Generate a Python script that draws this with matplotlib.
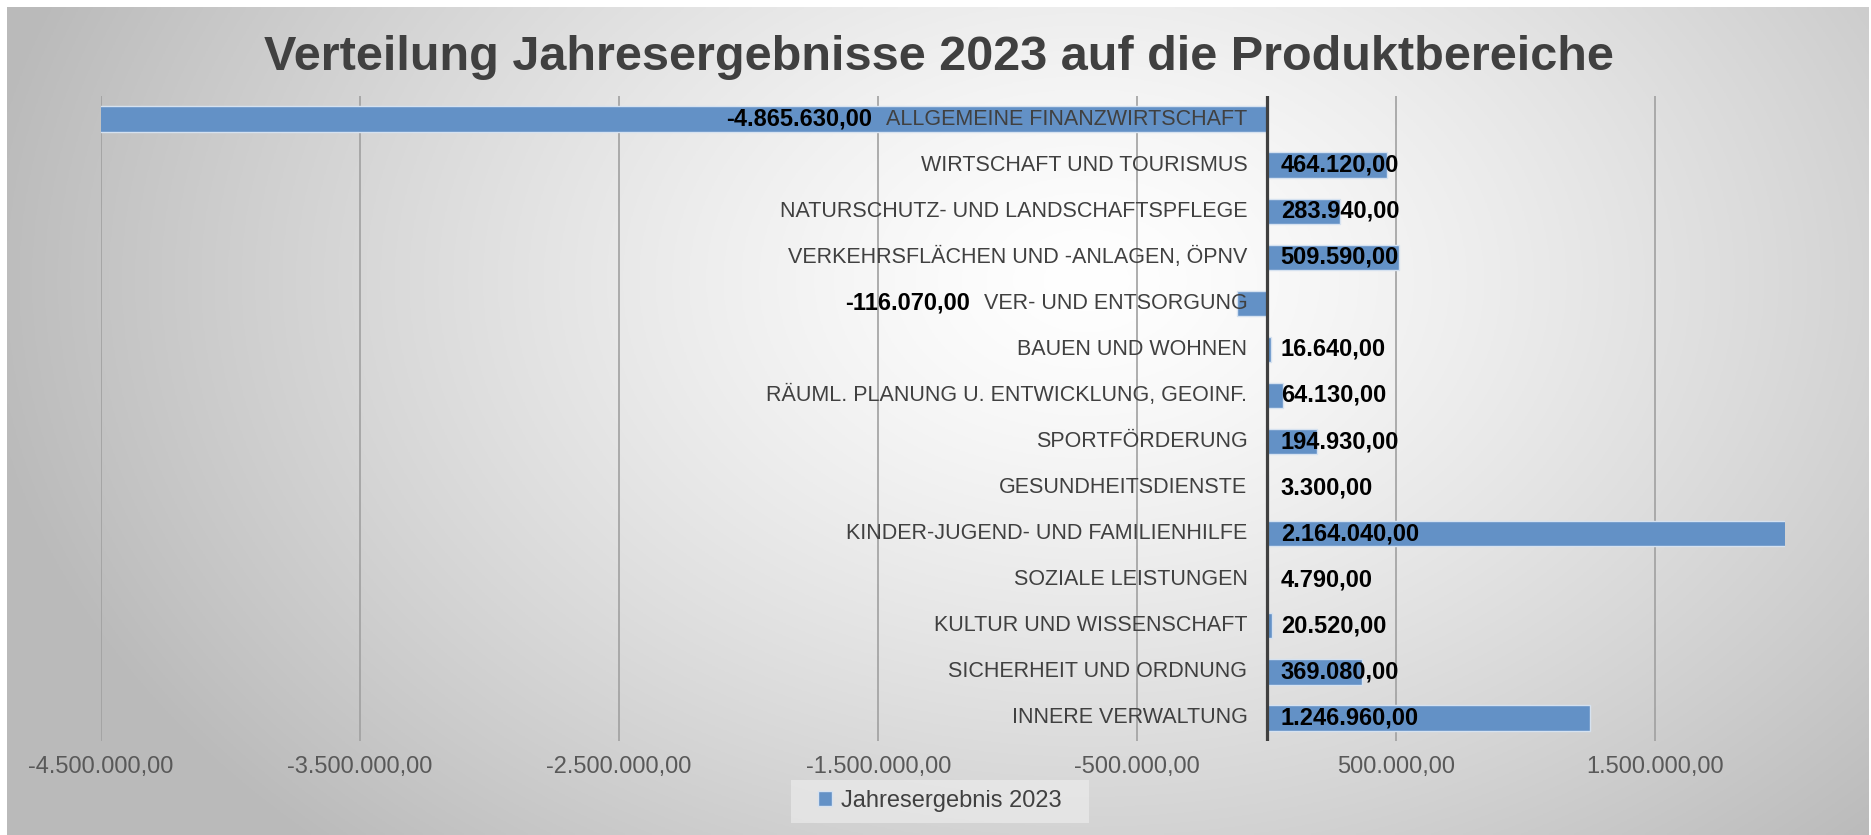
import matplotlib
matplotlib.use('Agg')
import matplotlib.pyplot as plt
from matplotlib.patches import Patch, Rectangle
import numpy as np

plt.rcParams['font.family'] = ['Liberation Sans', 'DejaVu Sans']

categories = [
    'ALLGEMEINE FINANZWIRTSCHAFT',
    'WIRTSCHAFT UND TOURISMUS',
    'NATURSCHUTZ- UND LANDSCHAFTSPFLEGE',
    'VERKEHRSFLÄCHEN UND -ANLAGEN, ÖPNV',
    'VER- UND ENTSORGUNG',
    'BAUEN UND WOHNEN',
    'RÄUML. PLANUNG U. ENTWICKLUNG, GEOINF.',
    'SPORTFÖRDERUNG',
    'GESUNDHEITSDIENSTE',
    'KINDER-JUGEND- UND FAMILIENHILFE',
    'SOZIALE LEISTUNGEN',
    'KULTUR UND WISSENSCHAFT',
    'SICHERHEIT UND ORDNUNG',
    'INNERE VERWALTUNG',
]
values = [-4865630, 464120, 283940, 509590, -116070, 16640, 64130,
          194930, 3300, 2164040, 4790, 20520, 369080, 1246960]
x_ticks = [-4500000, -3500000, -2500000, -1500000, -500000, 500000, 1500000]
series_name = 'Jahresergebnis 2023'
title = 'Verteilung Jahresergebnisse 2023 auf die Produktbereiche'


def fmt_de(v):
    s = f'{v:,.2f}'
    return s.replace(',', 'X').replace('.', ',').replace('X', '.')


def main():
    W, H = 1871, 835
    fig = plt.figure(figsize=(W / 100, H / 100), dpi=100)
    fig.patch.set_facecolor('white')

    # radial grey gradient background
    bg = fig.add_axes([7 / W, 0, (W - 9) / W, (H - 7) / H], zorder=-10)
    yy, xx = np.mgrid[0:1:300j, 0:1:600j]
    d = np.sqrt(((xx - 0.58) / 0.6) ** 2 + ((yy - 0.33) / 0.95) ** 2)
    g = 1.0 - 0.27 * np.clip(d, 0, 1) ** 1.3
    bg.imshow(np.dstack([g, g, g]), aspect='auto', extent=[0, 1, 1, 0])
    bg.axis('off')

    ax = fig.add_axes([101 / W, 1 - 741 / H, (1785 - 101) / W, (741 - 96) / H])
    ax.set_facecolor('none')

    y = np.arange(len(categories))[::-1]
    ax.barh(y, values, height=0.55, color='#6391c6', edgecolor='#d6e2f0',
            linewidth=1, zorder=2)
    ax.set_xlim(-4500000, 2000000)
    ax.set_ylim(-0.5, len(categories) - 0.5)

    ax.set_xticks(x_ticks)
    ax.set_xticklabels([fmt_de(t) for t in x_ticks], fontsize=17, color='#595959')
    ax.tick_params(axis='x', length=0, pad=11)
    ax.set_yticks([])
    ax.grid(axis='x', color='#a0a0a0', linewidth=1.2, zorder=0)
    for s in ax.spines.values():
        s.set_visible(False)
    ax.axvline(0, color='#404040', linewidth=2.3, zorder=3)

    fig.canvas.draw()
    renderer = fig.canvas.get_renderer()
    inv = ax.transData.inverted()
    for yi, cat, v in zip(y, categories, values):
        t = ax.annotate(cat, (0, yi), xytext=(-14, 0), textcoords='offset points',
                        ha='right', va='center', fontsize=15.5, color='#404040',
                        zorder=4)
        if v >= 0:
            ax.annotate(fmt_de(v), (0, yi), xytext=(10, 0),
                        textcoords='offset points', ha='left', va='center',
                        fontsize=17, fontweight='bold', color='black', zorder=4)
        else:
            bb = t.get_window_extent(renderer)
            xd = inv.transform((bb.x0 - 14, 0))[0]
            ax.text(xd, yi, fmt_de(v), ha='right', va='center', fontsize=17,
                    fontweight='bold', color='black', zorder=4)

    fig.text(0.502, 1 - 57 / H, title, ha='center', va='center', fontsize=35,
             fontweight='bold', color='#404040')

    # legend background box
    fig.patches.append(Rectangle((791 / W, 1 - 823 / H), (1089 - 791) / W, 43 / H,
                                 transform=fig.transFigure, facecolor='#ebebeb',
                                 alpha=0.7, edgecolor='none', zorder=1))
    leg = fig.legend([Patch(facecolor='#6391c6', edgecolor='#d6e2f0')], [series_name],
                     loc='center', bbox_to_anchor=(0.5024, 1 - 801 / H),
                     fontsize=17, frameon=False, handlelength=0.6, handleheight=0.6,
                     handletextpad=0.4, borderpad=0.5)
    for txt in leg.get_texts():
        txt.set_color('#404040')

    fig.savefig('out.png', dpi=100)


if __name__ == '__main__':
    main()
